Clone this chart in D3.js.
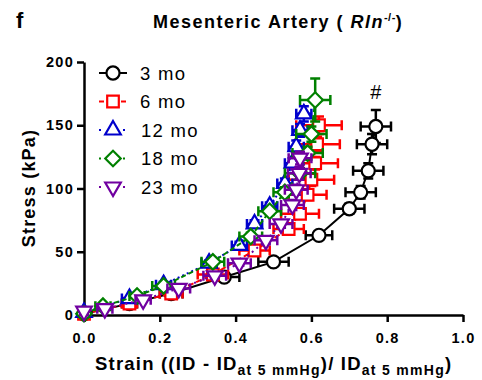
<!DOCTYPE html>
<html><head><meta charset="utf-8">
<script src="https://cdn.jsdelivr.net/npm/d3@7"></script>
<style>body{margin:0;background:#fff}svg{display:block;font-family:"Liberation Sans",Arial,sans-serif}</style>
</head><body><svg id="c" width="482" height="380"></svg>
<script>
const seriesNames = ["3 mo","6 mo","12 mo","18 mo","23 mo"];
const seriesColors = ["#000000","#ff0000","#0000cc","#008000","#7000a0"];
const seriesSymbols = ["circle","square","triangle","diamond","triangleDown"];
const seriesDash = [null,"6,3","2,3","5,3","2,4"];

const strain3 = [0, 0.12, 0.23, 0.37, 0.50, 0.62, 0.70, 0.73, 0.75, 0.76, 0.77];
const stress3 = [1, 9, 17, 30, 42, 63, 84, 97, 114, 135, 149];
const strainErr3 = [0.01, 0.02, 0.03, 0.04, 0.04, 0.035, 0.04, 0.04, 0.04, 0.04, 0.04];
const stressErr3 = [0, 1, 2, 2, 2, 3, 4, 5, 6, 8, 13];

const strain6 = [0, 0.12, 0.23, 0.34, 0.45, 0.54, 0.57, 0.59, 0.60, 0.61, 0.615, 0.62];
const stress6 = [1, 9, 17, 32, 51, 68, 80, 95, 107, 120, 135, 150];
const strainErr6 = [0.01, 0.02, 0.03, 0.04, 0.04, 0.04, 0.05, 0.05, 0.06, 0.06, 0.06, 0.06];
const stressErr6 = [0, 1, 2, 2, 3, 3, 4, 4, 5, 5, 6, 7];

const strain12 = [0, 0.12, 0.21, 0.33, 0.41, 0.45, 0.49, 0.53, 0.55, 0.56, 0.57, 0.58];
const stress12 = [2, 13, 24, 41, 55, 72, 86, 104, 120, 133, 146, 159];
const strainErr12 = [0.01, 0.02, 0.02, 0.02, 0.02, 0.02, 0.02, 0.02, 0.02, 0.02, 0.02, 0.02];
const stressErr12 = [0, 1, 2, 2, 3, 3, 3, 4, 4, 5, 5, 6];

const strain18 = [0, 0.05, 0.14, 0.21, 0.34, 0.44, 0.49, 0.53, 0.57, 0.59, 0.60, 0.61];
const stress18 = [1, 7, 15, 23, 42, 62, 82, 97, 112, 128, 143, 170];
const strainErr18 = [0.01, 0.02, 0.02, 0.03, 0.03, 0.03, 0.03, 0.03, 0.04, 0.04, 0.04, 0.04];
const stressErr18 = [0, 1, 1, 2, 2, 3, 3, 4, 4, 5, 6, 17];

const strain23 = [0, 0.055, 0.156, 0.25, 0.345, 0.41, 0.48, 0.52, 0.55, 0.56, 0.568, 0.57];
const stress23 = [3, 5, 12, 21, 31, 41, 59, 72, 87, 99, 112, 124];
const strainErr23 = [0.01, 0.02, 0.02, 0.03, 0.03, 0.03, 0.03, 0.03, 0.03, 0.03, 0.03, 0.03];
const stressErr23 = [0, 1, 1, 2, 2, 2, 3, 3, 4, 4, 5, 5];

const xTicks = [0, 0.2, 0.4, 0.6, 0.8, 1.0];
const yTicks = [0, 50, 100, 150, 200];

const allSeries = [
  {x: strain3, y: stress3, ex: strainErr3, ey: stressErr3},
  {x: strain6, y: stress6, ex: strainErr6, ey: stressErr6},
  {x: strain12, y: stress12, ex: strainErr12, ey: stressErr12},
  {x: strain18, y: stress18, ex: strainErr18, ey: stressErr18},
  {x: strain23, y: stress23, ex: strainErr23, ey: stressErr23}
];

const svg = d3.select("#c");
const x = d3.scaleLinear().domain([0, 1]).range([84, 463]);
const y = d3.scaleLinear().domain([0, 200]).range([315, 62]);

function symPath(kind) {
  if (kind === "circle") return d3.symbol(d3.symbolCircle, 135)();
  if (kind === "square") return d3.symbol(d3.symbolSquare, 135)();
  if (kind === "triangle") return d3.symbol(d3.symbolTriangle, 105)();
  if (kind === "triangleDown") return d3.symbol(d3.symbolTriangle, 105)();
  if (kind === "diamond") return d3.symbol(d3.symbolSquare, 120)();
}
function symRot(kind) {
  if (kind === "triangleDown") return 180;
  if (kind === "diamond") return 45;
  return 0;
}

// axes
const xAxis = d3.axisBottom(x).tickValues(xTicks).tickFormat(d3.format(".1f")).tickSize(7).tickSizeOuter(0);
const yAxis = d3.axisLeft(y).tickValues(yTicks).tickFormat(d3.format("d")).tickSize(7).tickSizeOuter(0);
const gx = svg.append("g").attr("transform", "translate(0,315)").call(xAxis);
const gy = svg.append("g").attr("transform", "translate(84,0)").call(yAxis);
[gx, gy].forEach(g => {
  g.select(".domain").attr("stroke", "#000").attr("stroke-width", 2.5);
  g.selectAll(".tick line").attr("stroke", "#000").attr("stroke-width", 2.5);
  g.selectAll(".tick text").attr("fill", "#000").style("font-size", "14.5px").style("font-weight", "bold")
    .style("letter-spacing", "1.3px")
    .style("font-family", '"Liberation Sans", Arial, sans-serif');
});
gx.selectAll(".tick text").attr("y", 28).attr("dy", 0);
gy.selectAll(".tick text").attr("x", -10);

// series
allSeries.forEach((s, i) => {
  const col = seriesColors[i];
  const g = svg.append("g");
  const pts = s.x.map((v, k) => ({x: v, y: s.y[k], ex: s.ex[k], ey: s.ey[k]}));
  const line = d3.line().x(d => x(d.x)).y(d => y(d.y));
  g.append("path").datum(pts).attr("d", line).attr("fill", "none").attr("stroke", col)
    .attr("stroke-width", 2).attr("stroke-dasharray", seriesDash[i]);
  const cap = 5;
  pts.forEach(d => {
    const cx = x(d.x), cy = y(d.y);
    const x0 = x(d.x - d.ex), x1 = x(d.x + d.ex);
    const y0 = y(d.y - d.ey), y1 = y(d.y + d.ey);
    const p = d3.path();
    if (d.ex > 0) {
      p.moveTo(x0, cy); p.lineTo(x1, cy);
      p.moveTo(x0, cy - cap); p.lineTo(x0, cy + cap);
      p.moveTo(x1, cy - cap); p.lineTo(x1, cy + cap);
    }
    if (d.ey > 1) {
      p.moveTo(cx, y0); p.lineTo(cx, y1);
      p.moveTo(cx - cap, y0); p.lineTo(cx + cap, y0);
      p.moveTo(cx - cap, y1); p.lineTo(cx + cap, y1);
    }
    g.append("path").attr("d", p.toString()).attr("stroke", col).attr("stroke-width", 2.5).attr("fill", "none");
  });
  g.selectAll("path.m").data(pts).enter().append("path").attr("class", "m")
    .attr("d", symPath(seriesSymbols[i]))
    .attr("transform", d => `translate(${x(d.x)},${y(d.y)}) rotate(${symRot(seriesSymbols[i])})`)
    .attr("fill", "#fff").attr("stroke", col).attr("stroke-width", 2.2);
});

// legend
const legY = [73, 101.5, 130, 158.5, 187];
seriesNames.forEach((n, i) => {
  const col = seriesColors[i];
  const g = svg.append("g");
  g.append("line").attr("x1", 99).attr("x2", 127).attr("y1", legY[i]).attr("y2", legY[i])
    .attr("stroke", col).attr("stroke-width", 2).attr("stroke-dasharray", seriesDash[i] ? (i === 1 ? "5,6" : "2,6") : null);
  g.append("path").attr("d", symPath(seriesSymbols[i]))
    .attr("transform", `translate(113,${legY[i]}) rotate(${symRot(seriesSymbols[i])})`)
    .attr("fill", "#fff").attr("stroke", col).attr("stroke-width", 2.2);
  g.append("text").attr("x", i >= 2 ? 141 : 140).attr("y", legY[i] + 6.5).text(n)
    .style("font-size", "18.5px").style("letter-spacing", "1.3px").attr("fill", "#000");
});

// # annotation
svg.append("text").attr("x", x(strain3[strain3.length - 1])).attr("y", 99).attr("text-anchor", "middle")
  .style("font-size", "20px").text("#");

// titles
svg.append("text").attr("x", 16).attr("y", 28).style("font-size", "22px").style("font-weight", "bold").text("f");
const t = svg.append("text").attr("x", 153).attr("y", 28).style("font-size", "18px").style("font-weight", "bold")
  .style("letter-spacing", "1.5px");
t.append("tspan").text("Mesenteric Artery ( ");
t.append("tspan").style("font-style", "italic").text("Rln");
t.append("tspan").attr("dy", -7).style("font-size", "11px").style("letter-spacing", "0.5px").text("-/-");
t.append("tspan").attr("dy", 7).text(")");

svg.append("text").attr("transform", "translate(35,188) rotate(-90)").attr("text-anchor", "middle")
  .style("font-size", "18px").style("font-weight", "bold").style("letter-spacing", "1.2px").text("Stress (kPa)");

const xt = svg.append("text").attr("x", 95).attr("y", 370).style("font-size", "18.5px").style("font-weight", "bold")
  .style("letter-spacing", "1.2px");
xt.append("tspan").text("Strain ((ID - ID");
xt.append("tspan").attr("dy", 5).style("font-size", "14px").style("letter-spacing", "1.3px").text("at 5 mmHg");
xt.append("tspan").attr("dy", -5).text(")/ ID");
xt.append("tspan").attr("dy", 5).style("font-size", "14px").style("letter-spacing", "1.3px").text("at 5 mmHg");
xt.append("tspan").attr("dy", -5).text(")");
</script></body></html>
